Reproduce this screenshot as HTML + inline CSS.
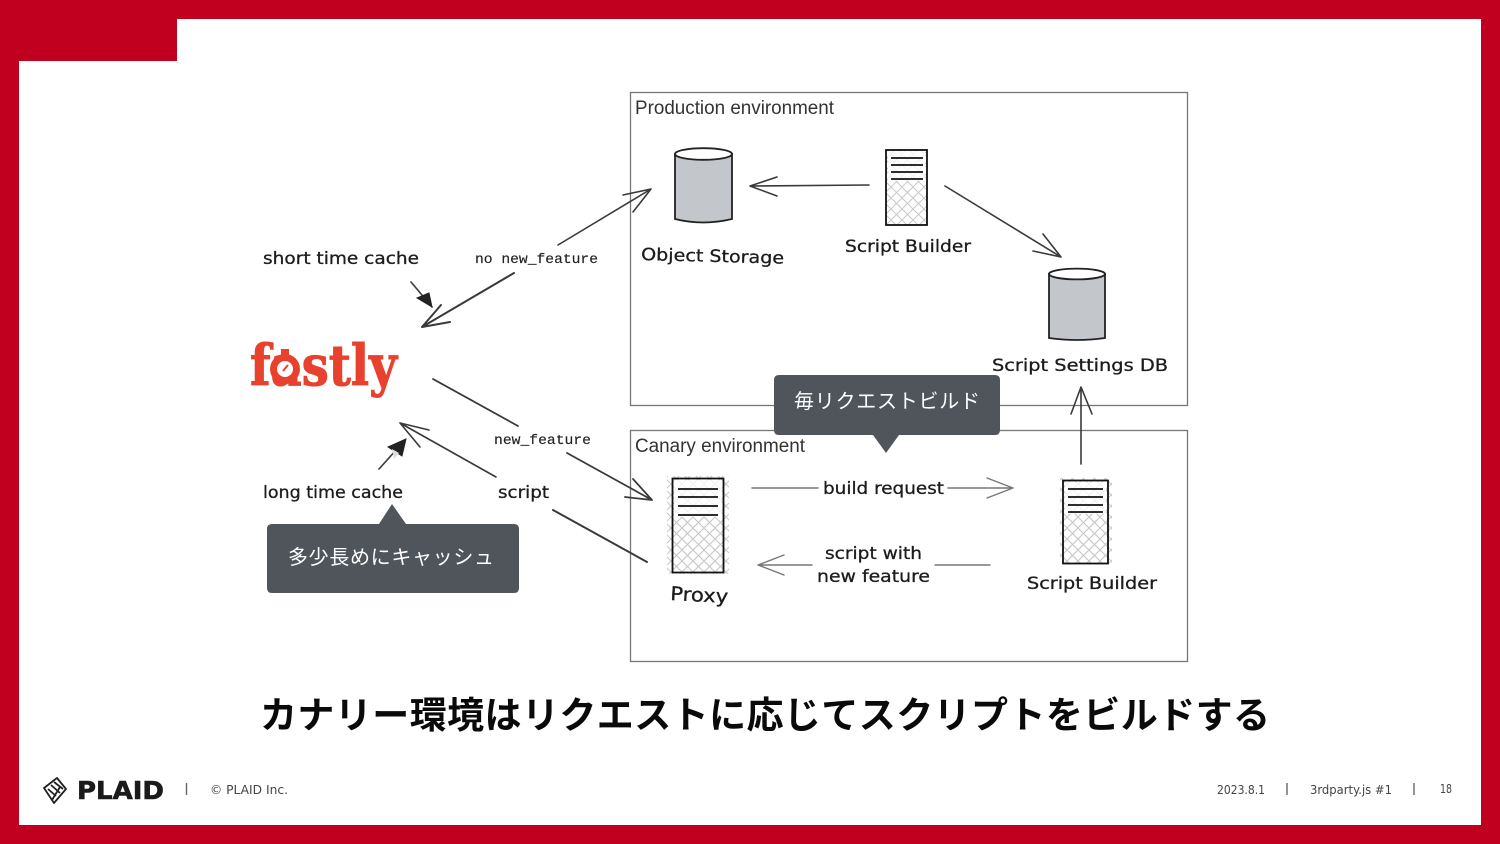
<!DOCTYPE html>
<html lang="ja">
<head>
<meta charset="utf-8">
<title>カナリー環境</title>
<style>
html,body{margin:0;padding:0;width:1500px;height:844px;overflow:hidden;background:#fff}
svg{display:block}
.hand{font-family:"DejaVu Sans",sans-serif;font-size:17px;fill:#1c1c1c;stroke:#1c1c1c;stroke-width:.3px}
.mono{font-family:"Liberation Mono",monospace;font-size:14px;fill:#222;stroke:#222;stroke-width:.15px}
.env{font-family:"Liberation Sans",sans-serif;font-size:19px;fill:#333}
.call{font-family:"Liberation Sans","Noto Sans CJK JP",sans-serif;font-size:20px;fill:#fff;font-weight:400}
.foot{font-family:"DejaVu Sans",sans-serif;font-size:12.500px;fill:#444}
.a{fill:none;stroke:#3a3a3a;stroke-width:1.6;stroke-linecap:round;stroke-linejoin:round}
.g{fill:none;stroke:#777;stroke-width:1.4;stroke-linecap:round;stroke-linejoin:round}
.k{fill:none;stroke:#111;stroke-width:1.8}
</style>
</head>
<body>
<svg width="1500" height="844" viewBox="0 0 1500 844" xmlns="http://www.w3.org/2000/svg">
<defs>
<pattern id="h" width="11" height="11" patternUnits="userSpaceOnUse">
<path d="M0 0L11 11M11 0L0 11" stroke="#c9c9c9" stroke-width="1"/>
</pattern>
</defs>

<!-- slide frame -->
<rect width="1500" height="844" fill="#c10020"/>
<rect x="19" y="19" width="1462" height="806" fill="#fff"/>
<rect x="19" y="19" width="158" height="42" fill="#c10020"/>

<!-- environment boxes -->
<rect x="630.5" y="92.5" width="557" height="313" fill="#fff" stroke="#777" stroke-width="1.3"/>
<rect x="630.5" y="430.5" width="557" height="231" fill="#fff" stroke="#777" stroke-width="1.3"/>
<text class="env" x="635" y="114" textLength="199" lengthAdjust="spacingAndGlyphs">Production environment</text>
<text class="env" x="635" y="452" textLength="170" lengthAdjust="spacingAndGlyphs">Canary environment</text>

<!-- object storage cylinder -->
<path d="M675 154V219Q703 226 732 219V154Z" fill="#c3c7cc" stroke="#222" stroke-width="1.8"/>
<ellipse cx="703.5" cy="154" rx="28.5" ry="5.8" fill="#fff" stroke="#222" stroke-width="1.8"/>
<text class="hand" x="641" y="260" textLength="143" lengthAdjust="spacingAndGlyphs" transform="rotate(1.5 641 260)">Object Storage</text>

<!-- script settings db cylinder -->
<path d="M1049 274V338Q1077 342 1105 338V274Z" fill="#c3c7cc" stroke="#222" stroke-width="1.8"/>
<ellipse cx="1077" cy="274" rx="28" ry="5.4" fill="#fff" stroke="#222" stroke-width="1.8"/>
<text class="hand" x="992" y="371" textLength="176" lengthAdjust="spacingAndGlyphs">Script Settings DB</text>

<!-- production builder -->
<rect x="886" y="150" width="41" height="75" fill="url(#h)" stroke="#111" stroke-width="1.8"/>
<rect x="888" y="151" width="37" height="30" fill="#fff" fill-opacity=".75"/>
<path class="k" d="M891 158H923M891 165H923M891 172H923M891 179H923"/>
<text class="hand" x="845" y="252" textLength="126" lengthAdjust="spacingAndGlyphs">Script Builder</text>

<!-- proxy -->
<rect x="667" y="476" width="62" height="98" fill="url(#h)"/>
<rect x="672.5" y="478.5" width="51" height="94" fill="url(#h)" stroke="#111" stroke-width="1.8"/>
<rect x="674" y="480" width="48" height="37" fill="#fff" fill-opacity=".75"/>
<path class="k" d="M678 489H718M678 497H718M678 506H718M678 515H718"/>
<text class="hand" x="670" y="600" textLength="58" lengthAdjust="spacingAndGlyphs" style="font-size:19px" transform="rotate(3 670 600)">Proxy</text>

<!-- canary builder -->
<rect x="1060" y="478" width="52" height="86" fill="url(#h)"/>
<rect x="1063" y="480.5" width="45" height="83" fill="url(#h)" stroke="#111" stroke-width="1.8"/>
<rect x="1065" y="482" width="41" height="32" fill="#fff" fill-opacity=".75"/>
<path class="k" d="M1068 489H1103M1068 497H1103M1068 505H1103M1068 512H1103"/>
<text class="hand" x="1027" y="589" textLength="130" lengthAdjust="spacingAndGlyphs">Script Builder</text>

<!-- connectors inside environments -->
<path class="a" d="M869 185L750 186M777 177L750 186L777 196"/>
<path class="a" d="M945 186L1061 257M1043 234L1061 257L1033 251"/>
<path class="a" d="M1081 464V387M1071 414L1081 387L1092 414"/>
<path class="g" d="M752 488H818M948 488H1013M987 478L1013 488L987 498"/>
<path class="g" d="M990 565H935M812 565H758M784 555L758 565L784 575"/>
<text class="hand" x="823" y="494" textLength="121" lengthAdjust="spacingAndGlyphs">build request</text>
<text class="hand" x="825" y="559" textLength="97" lengthAdjust="spacingAndGlyphs">script with</text>
<text class="hand" x="817" y="582" textLength="113" lengthAdjust="spacingAndGlyphs">new feature</text>

<!-- fastly logo -->
<text x="250" y="385" textLength="147" lengthAdjust="spacingAndGlyphs" font-family="DejaVu Serif,serif" font-weight="bold" font-size="56" fill="#e8412e" stroke="#e8412e" stroke-width="1">fastly</text>
<circle cx="285" cy="369" r="15" fill="#e8412e"/>
<rect x="281" y="349" width="8" height="7" fill="#e8412e"/>
<circle cx="285" cy="369" r="8" fill="#fff"/>
<path d="M283 371L288 365" stroke="#e8412e" stroke-width="2"/>

<!-- left connectors -->
<path class="a" d="M558 245L651 189M623 195L651 189L633 212"/>
<path class="a" style="stroke-width:2" d="M514 273L422 327M441 305L422 327L450 322"/>
<path class="a" style="stroke-width:1.8" d="M433 379L518 426M567 453L652 500M633 479L652 500L625 497"/>
<path class="a" d="M496 477L400 423M429 430L400 423L420 447"/>
<path class="a" style="stroke-width:2" d="M553 510L647 562"/>
<path class="a" d="M411 282L432 307"/>
<path d="M432 307L417 298L429 293Z" fill="#222" stroke="#222"/>
<path class="a" d="M379 469L405 440"/>
<path d="M406 439L388 447L402 456Z" fill="#222" stroke="#222"/>
<path d="M392 449L399 453L394 459Z" fill="#ddd"/>

<text class="hand" x="263" y="264" textLength="156" lengthAdjust="spacingAndGlyphs">short time cache</text>
<text class="mono" x="475" y="263" textLength="123" lengthAdjust="spacingAndGlyphs">no new_feature</text>
<text class="mono" x="494" y="444" textLength="97" lengthAdjust="spacingAndGlyphs">new_feature</text>
<text class="hand" x="263" y="498" textLength="140" lengthAdjust="spacingAndGlyphs">long time cache</text>
<text class="hand" x="498" y="498" textLength="51" lengthAdjust="spacingAndGlyphs">script</text>

<!-- callouts -->
<path d="M272 524H379L392 504L406 524H514Q519 524 519 529V588Q519 593 514 593H272Q267 593 267 588V529Q267 524 272 524Z" fill="#50555c"/>
<text class="call" x="288" y="564" textLength="206" lengthAdjust="spacing">多少長めにキャッシュ</text>
<path d="M779 375H995Q1000 375 1000 380V430Q1000 435 995 435H899L886 453L873 435H779Q774 435 774 430V380Q774 375 779 375Z" fill="#50555c"/>
<text class="call" x="794" y="408" textLength="186" lengthAdjust="spacing">毎リクエストビルド</text>

<!-- title -->
<text x="260" y="728" textLength="1010" lengthAdjust="spacing" font-family="Liberation Sans,Noto Sans CJK JP,sans-serif" font-weight="bold" font-size="37" fill="#0a0a0a">カナリー環境はリクエストに応じてスクリプトをビルドする</text>

<!-- footer -->
<g fill="none" stroke="#222" stroke-width="1.8" stroke-linejoin="round">
<path d="M44 788L57 778L66 789L54 803Z"/>
<path d="M48 789L56 796M51 785L60 793M54 782L63 789M52 800L60 787"/>
</g>
<text x="77" y="799" textLength="87" lengthAdjust="spacingAndGlyphs" font-family="DejaVu Sans,sans-serif" font-weight="bold" font-size="25" fill="#1a1a1a" stroke="#1a1a1a" stroke-width=".6">PLAID</text>
<path d="M186.500 783V795M1287 783V795M1414 783V795" stroke="#666" stroke-width="1.4"/>
<text class="foot" x="210" y="794" textLength="78" lengthAdjust="spacingAndGlyphs">© PLAID Inc.</text>
<text class="foot" x="1217" y="794" textLength="48" lengthAdjust="spacingAndGlyphs">2023.8.1</text>
<text class="foot" x="1310" y="794" textLength="82" lengthAdjust="spacingAndGlyphs">3rdparty.js #1</text>
<text class="foot" x="1440" y="793" textLength="12" lengthAdjust="spacingAndGlyphs">18</text>
</svg>
</body>
</html>
